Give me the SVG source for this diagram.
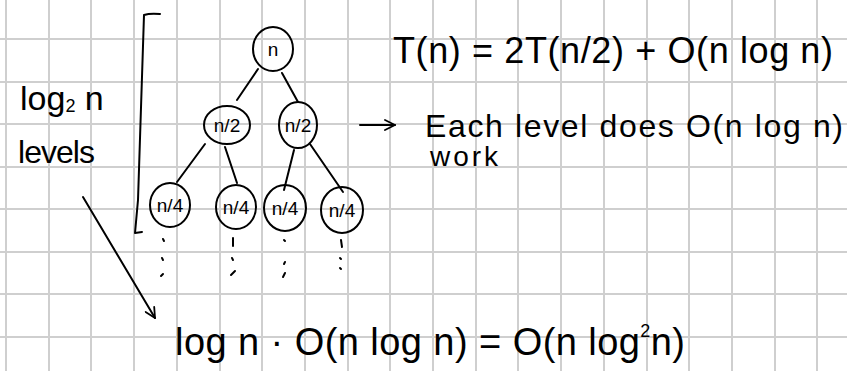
<svg xmlns="http://www.w3.org/2000/svg" width="847" height="371" viewBox="0 0 847 371">
<style>
.grid line{stroke:#cfcfcf;stroke-width:2}
.ink{fill:none;stroke:#000;stroke-width:2;stroke-linecap:round;stroke-linejoin:round}
.node ellipse{fill:none;stroke:#000;stroke-width:2}
.lbl{font-family:"Liberation Sans",Arial,sans-serif;font-size:19px;fill:#000;text-anchor:middle}
.hand{font-family:"Liberation Sans",Arial,sans-serif;fill:#000}
</style>
<defs>
<marker id="open" viewBox="0 0 12 12" refX="11" refY="6" markerWidth="12" markerHeight="12" markerUnits="userSpaceOnUse" orient="auto">
<path d="M1,1 L11,6 L1,11" fill="none" stroke="#000" stroke-width="1.8" stroke-linecap="round" stroke-linejoin="round"/>
</marker>
</defs>
<rect width="847" height="371" fill="#fff"/>
<g class="grid">
<line x1="6" y1="0" x2="6" y2="371"/><line x1="49" y1="0" x2="49" y2="371"/><line x1="91" y1="0" x2="91" y2="371"/><line x1="134" y1="0" x2="134" y2="371"/><line x1="177" y1="0" x2="177" y2="371"/><line x1="220" y1="0" x2="220" y2="371"/><line x1="262" y1="0" x2="262" y2="371"/><line x1="305" y1="0" x2="305" y2="371"/><line x1="348" y1="0" x2="348" y2="371"/><line x1="390" y1="0" x2="390" y2="371"/><line x1="433" y1="0" x2="433" y2="371"/><line x1="476" y1="0" x2="476" y2="371"/><line x1="518" y1="0" x2="518" y2="371"/><line x1="561" y1="0" x2="561" y2="371"/><line x1="604" y1="0" x2="604" y2="371"/><line x1="647" y1="0" x2="647" y2="371"/><line x1="689" y1="0" x2="689" y2="371"/><line x1="732" y1="0" x2="732" y2="371"/><line x1="775" y1="0" x2="775" y2="371"/><line x1="817" y1="0" x2="817" y2="371"/>
<line x1="0" y1="39" x2="847" y2="39"/><line x1="0" y1="82" x2="847" y2="82"/><line x1="0" y1="124" x2="847" y2="124"/><line x1="0" y1="167" x2="847" y2="167"/><line x1="0" y1="209" x2="847" y2="209"/><line x1="0" y1="252" x2="847" y2="252"/><line x1="0" y1="294" x2="847" y2="294"/><line x1="0" y1="337" x2="847" y2="337"/>
</g>
<path class="ink" d="M160,14 Q150,13 144,15 L138,200 Q136,222 135,233 L142,232"/>
<g id="connectors" class="ink">
<line x1="258" y1="69" x2="237" y2="100"/>
<line x1="282" y1="73" x2="298" y2="102"/>
<line x1="205" y1="144" x2="177" y2="182"/>
<line x1="225" y1="147" x2="237" y2="183"/>
<line x1="294" y1="150" x2="284" y2="190"/>
<line x1="310" y1="144" x2="343" y2="192"/>
<line x1="83" y1="197" x2="155" y2="318" marker-end="url(#open)"/>
<line x1="360" y1="125" x2="395" y2="125" marker-end="url(#open)"/>
</g>
<g id="node-n" class="node"><ellipse cx="273" cy="49" rx="20" ry="22"/><text class="lbl" x="273" y="56" font-size="21">n</text></g>
<g id="node-n2-left" class="node"><ellipse cx="227" cy="125" rx="23" ry="19"/><text class="lbl" x="227" y="132">n/2</text></g>
<g id="node-n2-right" class="node"><ellipse cx="298" cy="125" rx="19" ry="23"/><text class="lbl" x="298" y="132">n/2</text></g>
<g id="node-n4-1" class="node"><ellipse cx="170" cy="205" rx="20" ry="22"/><text class="lbl" x="170" y="212">n/4</text></g>
<g id="node-n4-2" class="node"><ellipse cx="236" cy="207" rx="20" ry="22"/><text class="lbl" x="236" y="214">n/4</text></g>
<g id="node-n4-3" class="node"><ellipse cx="285" cy="208" rx="21" ry="23"/><text class="lbl" x="285" y="215">n/4</text></g>
<g id="node-n4-4" class="node"><ellipse cx="342" cy="210" rx="21" ry="23"/><text class="lbl" x="342" y="217">n/4</text></g>
<g class="ink">
<line x1="163" y1="239" x2="164" y2="241"/><line x1="162" y1="258" x2="163" y2="260"/><line x1="163" y1="274" x2="161" y2="276"/>
<line x1="233" y1="238" x2="233" y2="246"/><line x1="232" y1="258" x2="233" y2="260"/><line x1="235" y1="271" x2="231" y2="275"/>
<line x1="284" y1="240" x2="285" y2="241"/><line x1="285" y1="262" x2="284" y2="264"/><line x1="285" y1="273" x2="283" y2="277"/>
<line x1="341" y1="240" x2="342" y2="247"/><line x1="340" y1="258" x2="341" y2="259"/><line x1="340" y1="268" x2="341" y2="269"/>
</g>
<text class="hand" x="20" y="110" font-size="34">log<tspan font-size="18" dy="2">2</tspan><tspan dy="-2"> n</tspan></text>
<text class="hand" x="18" y="163" font-size="32" textLength="77">levels</text>
<text class="hand" x="393" y="63" font-size="36" textLength="440">T(n) = 2T(n/2) + O(n log n)</text>
<text class="hand" x="425" y="137" font-size="32" textLength="418">Each level does O(n log n)</text>
<text class="hand" x="430" y="166" font-size="28" textLength="68">work</text>
<text class="hand" x="175" y="355" font-size="38" textLength="510">log n · O(n log n) = O(n log<tspan font-size="18" dy="-18">2</tspan><tspan dy="18">n)</tspan></text>
</svg>
